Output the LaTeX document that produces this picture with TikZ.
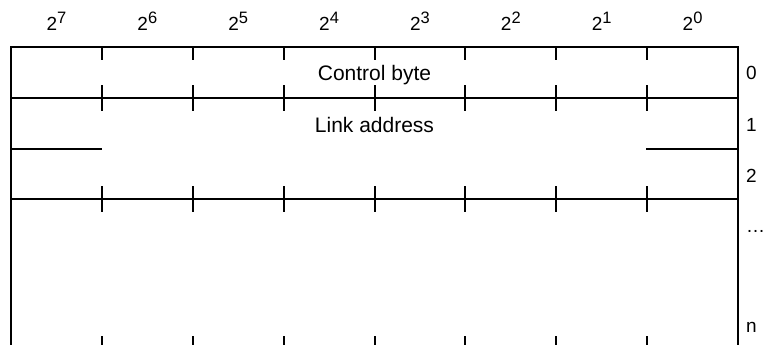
\documentclass[tikz,border=0pt]{standalone}
\usepackage{fontspec}
\setmainfont{Liberation Sans}
\newcommand{\hdr}[1]{2\raisebox{7pt}{\fontsize{16.5}{18}\selectfont #1}}
\begin{document}
\begin{tikzpicture}[x=1pt,y=-1pt,
  frame/.style={line width=2pt,line cap=butt},
  tick/.style={line width=2pt},
  hlbl/.style={inner sep=0pt,anchor=base,font=\fontsize{19}{22}\selectfont},
  lbl/.style={inner sep=0pt,anchor=base,font=\fontsize{21}{24}\selectfont},
  rowlbl/.style={inner sep=0pt,anchor=base west,font=\fontsize{19}{22}\selectfont}]
\useasboundingbox (0,0) rectangle (768,345);
% header labels
\foreach \b [count=\i from 0] in {7,6,5,4,3,2,1,0}{
  \node[hlbl] (h\b) at ({11+90.875*(\i+0.5)},31) {\hdr{\b}};
}
% frame
\draw[frame] (11,345) -- (11,47) -- (738,47) -- (738,345);
\draw[frame] (11,98) -- (738,98);
\draw[frame] (11,199) -- (738,199);
\draw[frame] (11,149) -- (101.9,149);
\draw[frame] (646.1,149) -- (738,149);
% ticks
\foreach \i in {1,...,7}{
  \pgfmathsetmacro{\xx}{11+90.875*\i}
  \draw[tick] (\xx,47) -- (\xx,60);
  \draw[tick] (\xx,85) -- (\xx,111);
  \draw[tick] (\xx,186) -- (\xx,212);
  \draw[tick] (\xx,336) -- (\xx,345);
}
% field labels
\node[lbl] (ctrl) at (374.5,81) {Control byte};
\node[lbl] (link) at (374.5,132) {Link address};
% row labels
\node[rowlbl] (r0) at (746,80) {0};
\node[rowlbl] (r1) at (746,131) {1};
\node[rowlbl] (r2) at (746,182) {2};
\node[rowlbl] (rd) at (746,232) {\dots};
\node[rowlbl] (rn) at (746,332) {n};
\end{tikzpicture}
\end{document}
